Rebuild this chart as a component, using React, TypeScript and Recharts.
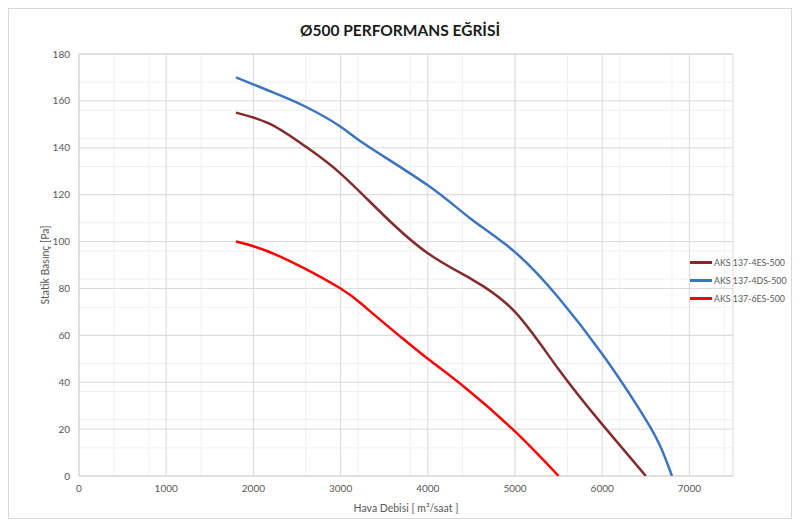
import React from "react";
import { CartesianGrid, Line, LineChart, ReferenceArea, XAxis, YAxis } from "recharts";

type Point = { q: number; p: number };

// AKS 137-4ES-500 (dark red)
const flow4ES = [1800, 2200, 2600, 3000, 3500, 4000, 4500, 5000, 5500, 6000, 6500];
const press4ES = [155, 150, 140.5, 129, 111, 95, 84, 70, 45.5, 22, 0];

// AKS 137-4DS-500 (blue)
const flow4DS = [1800, 2200, 2600, 3000, 3300, 4000, 4500, 5000, 5500, 6000, 6400, 6650, 6800];
const press4DS = [170, 164, 157.5, 149, 141, 124, 109.5, 95.5, 76, 52, 30, 14, 0];

// AKS 137-6ES-500 (red)
const flow6ES = [1800, 2000, 2400, 3000, 3300, 3700, 4000, 4450, 5000, 5500];
const press6ES = [100, 98, 92, 80, 71.5, 59, 50, 37, 19, 0];

const xTicks = [0, 1000, 2000, 3000, 4000, 5000, 6000, 7000];
const yTicks = [0, 20, 40, 60, 80, 100, 120, 140, 160, 180];
const X_MAX = 7500;
const Y_MAX = 180;
const X_MINOR_STEP = 200;
const Y_MINOR_STEP = 4;

const xMinorTicks = Array.from({ length: X_MAX / X_MINOR_STEP + 1 }, (_, i) => i * X_MINOR_STEP);
const yMinorTicks = Array.from({ length: Y_MAX / Y_MINOR_STEP + 1 }, (_, i) => i * Y_MINOR_STEP);

const toPoints = (flow: number[], press: number[]): Point[] =>
  flow.map((q, i) => ({ q, p: press[i] }));

const series = [
  { name: "AKS 137-4ES-500", color: "#842B2B", data: toPoints(flow4ES, press4ES) },
  { name: "AKS 137-4DS-500", color: "#3C74C0", data: toPoints(flow4DS, press4DS) },
  { name: "AKS 137-6ES-500", color: "#FF0000", data: toPoints(flow6ES, press6ES) },
];

const FONT = "Lato, 'Open Sans', sans-serif";
const tickStyle = { fontSize: 10, fill: "#595959", fontFamily: FONT };
const labelStyle = { fontSize: 10.5, fill: "#595959", fontFamily: FONT };

export default function App() {
  return (
    <div
      style={{
        position: "relative",
        width: 782,
        height: 509,
        border: "1px solid #D9D9D9",
        background: "#fff",
        fontFamily: FONT,
      }}
    >
      <div
        style={{
          position: "absolute",
          top: 12,
          left: 0,
          width: "100%",
          textAlign: "center",
          fontSize: 15.5,
          fontWeight: 700,
          color: "#1a1a1a",
        }}
      >
        Ø500 PERFORMANS EĞRİSİ
      </div>

      <LineChart width={782} height={509} margin={{ top: 45, right: 58, bottom: 12, left: 0 }}>
        <XAxis
          dataKey="q"
          type="number"
          domain={[0, X_MAX]}
          ticks={xTicks}
          allowDataOverflow
          axisLine={false}
          tickLine={false}
          tickSize={0}
          tickMargin={9}
          height={30}
          tick={tickStyle}
          label={{
            value: "Hava Debisi [ m³/saat ]",
            position: "insideBottom",
            offset: -6,
            fill: "#595959",
            style: labelStyle,
          }}
        />
        <YAxis
          type="number"
          domain={[0, Y_MAX]}
          ticks={yTicks}
          allowDataOverflow
          axisLine={false}
          tickLine={false}
          tickSize={0}
          tickMargin={9}
          width={70}
          tick={tickStyle}
          label={{
            value: "Statik Basınç [Pa]",
            angle: -90,
            position: "insideLeft",
            offset: 36,
            fill: "#595959",
            style: { ...labelStyle, textAnchor: "middle" },
          }}
        />

        <CartesianGrid stroke="#F0F0F0" horizontalValues={yMinorTicks} verticalValues={xMinorTicks} />
        <CartesianGrid stroke="#D9D9D9" horizontalValues={yTicks} verticalValues={xTicks} />
        <ReferenceArea x1={0} x2={X_MAX} y1={0} y2={Y_MAX} fill="none" stroke="#D9D9D9" />

        {series.map((s) => (
          <Line
            key={s.name}
            data={s.data}
            dataKey="p"
            name={s.name}
            type="natural"
            stroke={s.color}
            strokeWidth={2.5}
            dot={false}
            activeDot={false}
            isAnimationActive={false}
          />
        ))}
      </LineChart>

      <div style={{ position: "absolute", left: 681, top: 244 }}>
        {series.map((s) => (
          <div key={s.name} style={{ display: "flex", alignItems: "center", height: 18, whiteSpace: "nowrap" }}>
            <span style={{ display: "inline-block", width: 22, height: 3, background: s.color, marginRight: 2 }} />
            <span style={{ fontSize: 8.8, color: "#595959" }}>{s.name}</span>
          </div>
        ))}
      </div>
    </div>
  );
}
